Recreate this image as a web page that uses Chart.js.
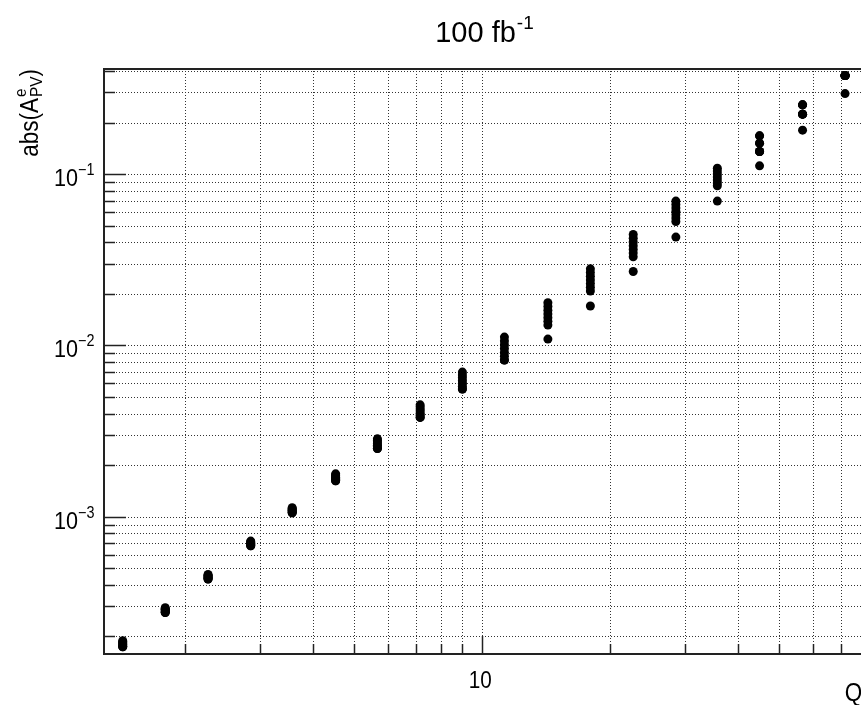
<!DOCTYPE html>
<html><head><meta charset="utf-8">
<script src="https://cdn.jsdelivr.net/npm/chart.js@4/dist/chart.umd.min.js"></script>
<style>
html,body{margin:0;padding:0;overflow:hidden;background:#fff;width:861px;height:705px}
#wrap{position:absolute;left:0;top:0;width:940px;height:705px}
</style></head>
<body><div id="wrap"><canvas id="c" width="940" height="705"></canvas></div>
<script>
// ---- data ----
const Q = [1.43, 1.80, 2.27, 2.86, 3.58, 4.53, 5.68, 7.16, 9.00, 11.3, 14.3, 18.0, 22.7, 28.6, 35.8, 45.0, 56.8, 71.5];
const series1 = [1.89e-4, 2.94e-4, 4.60e-4, 7.21e-4, 1.128e-3, 1.78e-3, 2.85e-3, 4.50e-3, 6.99e-3, 1.119e-2, 1.774e-2, 2.80e-2, 4.44e-2, 6.96e-2, 0.1084, 0.1674, 0.2538, 0.376];
const series2 = [1.86e-4, 2.91e-4, 4.55e-4, 7.13e-4, 1.116e-3, 1.75e-3, 2.79e-3, 4.38e-3, 6.73e-3, 1.063e-2, 1.688e-2, 2.665e-2, 4.224e-2, 6.649e-2, 0.1042, 0.1674, 0.2538, 0.376];
const series3 = [1.84e-4, 2.88e-4, 4.51e-4, 7.06e-4, 1.103e-3, 1.73e-3, 2.73e-3, 4.25e-3, 6.48e-3, 1.009e-2, 1.606e-2, 2.536e-2, 4.018e-2, 6.352e-2, 0.1002, 0.1517, 0.2538, 0.376];
const series4 = [1.81e-4, 2.85e-4, 4.46e-4, 6.99e-4, 1.091e-3, 1.70e-3, 2.67e-3, 4.14e-3, 6.23e-3, 9.59e-3, 1.527e-2, 2.413e-2, 3.822e-2, 6.068e-2, 0.0963, 0.1517, 0.2239, 0.376];
const series5 = [1.79e-4, 2.82e-4, 4.42e-4, 6.91e-4, 1.079e-3, 1.67e-3, 2.61e-3, 4.02e-3, 6.00e-3, 9.10e-3, 1.453e-2, 2.296e-2, 3.636e-2, 5.797e-2, 0.0925, 0.1355, 0.2239, 0.376];
const series6 = [1.76e-4, 2.79e-4, 4.37e-4, 6.84e-4, 1.067e-3, 1.65e-3, 2.56e-3, 3.91e-3, 5.78e-3, 8.65e-3, 1.382e-2, 2.185e-2, 3.459e-2, 5.538e-2, 0.0889, 0.1355, 0.2239, 0.376];
const series7 = [1.74e-4, 2.76e-4, 4.33e-4, 6.77e-4, 1.055e-3, 1.62e-3, 2.50e-3, 3.80e-3, 5.56e-3, 8.21e-3, 1.315e-2, 2.08e-2, 3.29e-2, 5.29e-2, 0.0855, 0.1355, 0.2239, 0.376];
const series8 = [1.74e-4, 2.76e-4, 4.33e-4, 6.77e-4, 1.055e-3, 1.62e-3, 2.50e-3, 3.80e-3, 5.56e-3, 8.21e-3, 1.089e-2, 1.70e-2, 2.70e-2, 4.29e-2, 0.0696, 0.1118, 0.1806, 0.2954];

// ---- axes / ticks / labels ----
const xRange = [1.292, 100];
const yRange = [1.58e-4, 0.411];
const xMajorTicks = [10];
const xTickLabels = ['10'];
const xMinorTicks = [2, 3, 4, 5, 6, 7, 8, 9, 20, 30, 40, 50, 60, 70, 80, 90];
const yMajorTicks = [1e-3, 1e-2, 1e-1];
const yTickBase = '10';
const yTickExponents = ['\u22123', '\u22122', '\u22121'];
const yMinorTicks = [2e-4, 3e-4, 4e-4, 5e-4, 6e-4, 7e-4, 8e-4, 9e-4,
                     2e-3, 3e-3, 4e-3, 5e-3, 6e-3, 7e-3, 8e-3, 9e-3,
                     2e-2, 3e-2, 4e-2, 5e-2, 6e-2, 7e-2, 8e-2, 9e-2,
                     0.2, 0.3, 0.4];
const titleMain = '100 fb';
const titleExp = '-1';
const xTitle = 'Q [GeV]';
const yTitleMain = 'abs(A';
const yTitleSup = 'e';
const yTitleSub = 'PV';
const yTitleEnd = ')';

const FONT = '"Liberation Sans", Arial, Helvetica, sans-serif';

function txt(ctx, s, x, y, size, align, sx) {
  sx = sx || 0.9;
  ctx.save();
  ctx.font = size + 'px ' + FONT;
  const w = ctx.measureText(s).width * sx;
  let x0 = x;
  if (align === 'right') x0 = x - w;
  else if (align === 'center') x0 = x - w / 2;
  ctx.translate(x0, y);
  ctx.scale(sx, 1);
  ctx.textAlign = 'left';
  ctx.textBaseline = 'alphabetic';
  ctx.fillStyle = '#000';
  ctx.fillText(s, 0, 0);
  ctx.restore();
  return w;
}
function tw(ctx, s, size, sx) {
  sx = sx || 0.9;
  ctx.save(); ctx.font = size + 'px ' + FONT;
  const w = ctx.measureText(s).width * sx; ctx.restore(); return w;
}

const rootFrame = {
  id: 'rootFrame',
  beforeDraw(chart) {
    const ctx = chart.ctx;
    ctx.save(); ctx.fillStyle = '#fff';
    ctx.fillRect(0, 0, chart.width, chart.height); ctx.restore();
  },
  beforeDatasetsDraw(chart) {
    const ctx = chart.ctx, a = chart.chartArea;
    const xs = chart.scales.x, ys = chart.scales.y;
    ctx.save();
    // dotted grid
    ctx.strokeStyle = '#333';
    ctx.lineWidth = 1;
    ctx.setLineDash([1, 2]);
    xMinorTicks.concat(xMajorTicks).forEach(v => {
      const p = Math.round(xs.getPixelForValue(v)) + 0.5;
      ctx.beginPath(); ctx.moveTo(p, a.bottom); ctx.lineTo(p, a.top); ctx.stroke();
    });
    yMinorTicks.concat(yMajorTicks).forEach(v => {
      const p = Math.round(ys.getPixelForValue(v)) + 0.5;
      ctx.beginPath(); ctx.moveTo(a.left, p); ctx.lineTo(a.right, p); ctx.stroke();
    });
    ctx.setLineDash([]);
    // ticks (inside)
    ctx.strokeStyle = '#222';
    ctx.lineWidth = 1.5;
    xMinorTicks.forEach(v => {
      const p = Math.round(xs.getPixelForValue(v)) + 0.5;
      ctx.beginPath(); ctx.moveTo(p, a.bottom); ctx.lineTo(p, a.bottom - 10); ctx.stroke();
    });
    xMajorTicks.forEach(v => {
      const p = Math.round(xs.getPixelForValue(v)) + 0.5;
      ctx.beginPath(); ctx.moveTo(p, a.bottom); ctx.lineTo(p, a.bottom - 18); ctx.stroke();
    });
    yMinorTicks.forEach(v => {
      const p = Math.round(ys.getPixelForValue(v)) + 0.5;
      ctx.beginPath(); ctx.moveTo(a.left, p); ctx.lineTo(a.left + 11, p); ctx.stroke();
    });
    yMajorTicks.forEach(v => {
      const p = Math.round(ys.getPixelForValue(v)) + 0.5;
      ctx.beginPath(); ctx.moveTo(a.left, p); ctx.lineTo(a.left + 22, p); ctx.stroke();
    });
    // frame
    ctx.strokeStyle = '#222';
    ctx.lineWidth = 2;
    ctx.strokeRect(a.left, a.top, a.right - a.left, a.bottom - a.top);
    ctx.restore();

    // tick labels
    xMajorTicks.forEach((v, i) => {
      const p = xs.getPixelForValue(v);
      txt(ctx, xTickLabels[i], p - 1.5, a.bottom + 34, 23, 'center');
    });
    yMajorTicks.forEach((v, i) => {
      const p = ys.getPixelForValue(v);
      txt(ctx, yTickBase, 78, p + 12, 24, 'right');
      txt(ctx, yTickExponents[i], 78, p + 1, 16, 'left');
    });

    // title
    const w1 = tw(ctx, titleMain, 29, 1);
    const w2 = tw(ctx, titleExp, 19, 1);
    const tx = 484 - (w1 + w2) / 2;
    txt(ctx, titleMain, tx, 42, 29, 'left', 1);
    txt(ctx, titleExp, tx + w1 + 1, 29, 19, 'left', 1);

    // x title (right-aligned near axis end)
    txt(ctx, xTitle, a.right + 19, 701, 25, 'right');

    // y title (rotated, right-aligned at top of axis)
    const wm = tw(ctx, yTitleMain, 25), wsup = tw(ctx, yTitleSup, 17),
          wsub = tw(ctx, yTitleSub, 17), we = tw(ctx, yTitleEnd, 25);
    const total = wm + Math.max(wsup, wsub) + we;
    ctx.save();
    ctx.translate(38, a.top + 1 + total);
    ctx.rotate(-Math.PI / 2);
    txt(ctx, yTitleMain, 0, 0, 25, 'left');
    txt(ctx, yTitleSup, wm + 1, -12, 17, 'left');
    txt(ctx, yTitleSub, wm + 1, 4, 17, 'left');
    txt(ctx, yTitleEnd, wm + Math.max(wsup, wsub) + 1, 0, 25, 'left');
    ctx.restore();
  }
};

const allSeries = [series1, series2, series3, series4, series5, series6, series7, series8];
const datasets = allSeries.map((s, k) => ({
  label: 'series' + (k + 1),
  data: Q.map((q, i) => ({ x: q, y: s[i] })),
  backgroundColor: '#000',
  borderColor: '#000',
  borderWidth: 0,
  pointRadius: 4.5,
  pointHoverRadius: 4.5,
  showLine: false
}));

new Chart(document.getElementById('c'), {
  type: 'scatter',
  data: { datasets },
  options: {
    responsive: false,
    animation: false,
    devicePixelRatio: 1,
    layout: { padding: { left: 104, top: 69, right: 33, bottom: 51 } },
    plugins: { legend: { display: false }, title: { display: false }, tooltip: { enabled: false } },
    scales: {
      x: { type: 'logarithmic', min: xRange[0], max: xRange[1], display: false },
      y: { type: 'logarithmic', min: yRange[0], max: yRange[1], display: false }
    }
  },
  plugins: [rootFrame]
});
</script>
</body></html>
